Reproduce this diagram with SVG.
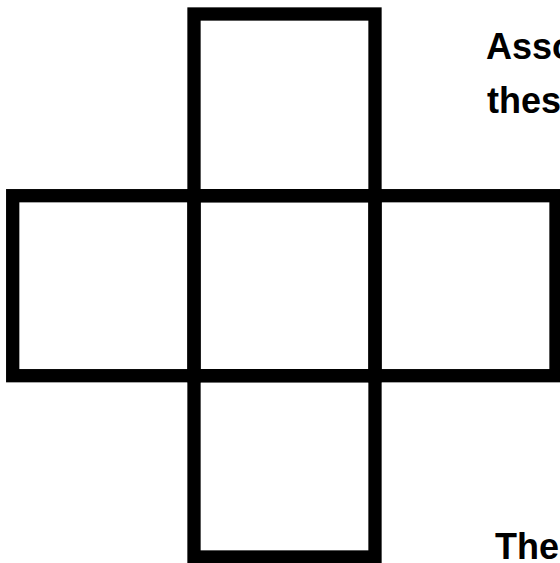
<svg xmlns="http://www.w3.org/2000/svg" width="560" height="563" viewBox="0 0 560 563">
<style>
.sq{fill:none;stroke:#000;stroke-width:13.3}
.t{font-family:"Liberation Sans",Arial,sans-serif;font-weight:bold;font-size:36px;fill:#000}
</style>
<rect width="560" height="563" fill="#fff"/>
<g id="top"><rect class="sq" x="194" y="14" width="181" height="181.7"/></g>
<g id="left"><rect class="sq" x="12.7" y="195.7" width="181.3" height="180"/></g>
<g id="center"><rect class="sq" x="194" y="195.7" width="181" height="180"/></g>
<g id="right"><rect class="sq" x="375" y="195.7" width="181" height="180"/></g>
<g id="bottom"><rect class="sq" x="194" y="375.7" width="181" height="181.3"/></g>
<g id="connectors"></g>
<text class="t" x="486" y="59">Associate</text>
<text class="t" x="487" y="113">these</text>
<text class="t" x="495" y="559">The</text>
</svg>
